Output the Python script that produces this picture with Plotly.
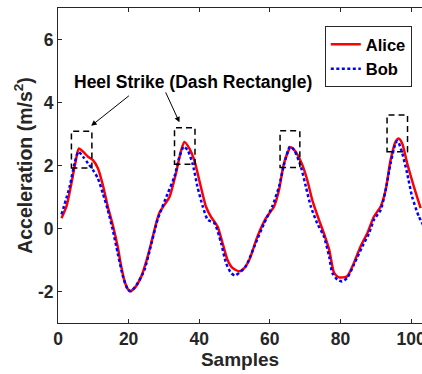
import plotly.graph_objects as go

# ---- data ----
alice_x = [1.0, 2.4, 3.8, 4.9, 5.9, 7.1, 8.5, 9.9, 11.3, 12.7, 14.1, 15.5, 16.9, 17.9, 19.0, 20.3,
           21.7, 23.6, 25.4, 26.4, 28.7, 31.6, 33.4, 34.9, 35.8, 37.2, 38.6, 40.0, 41.9, 43.3, 45.2,
           46.6, 48.0, 49.4, 51.3, 52.3, 54.2, 56.5, 58.9, 61.2, 62.6, 64.0, 65.9, 67.3, 69.2, 70.6,
           72.0, 73.9, 75.3, 76.8, 78.2, 79.6, 81.9, 83.8, 85.7, 87.6, 89.5, 91.4, 92.8, 94.2, 95.6,
           96.5, 97.5, 98.9, 100.8, 102.7]
alice_y = [0.33, 0.70, 1.44, 2.07, 2.54, 2.44, 2.28, 2.17, 1.91, 1.38, 0.70, 0.12, -0.57, -1.20, -1.73, -1.99,
           -1.89, -1.52, -0.89, -0.46, 0.49, 1.01, 1.75, 2.49, 2.75, 2.54, 2.17, 1.54, 0.70, 0.38, 0.06,
           -0.46, -0.99, -1.25, -1.36, -1.31, -0.99, -0.25, 0.33, 0.70, 1.22, 2.07, 2.58, 2.44, 2.02, 1.54,
           0.91, 0.28, -0.15, -0.67, -1.41, -1.55, -1.52, -1.10, -0.57, -0.15, 0.38, 0.70, 1.22, 2.17, 2.75,
           2.86, 2.70, 2.07, 1.33, 0.65]

bob_x = [1.0, 3.3, 4.7, 5.8, 7.1, 8.5, 9.9, 11.3, 12.7, 14.1, 15.5, 16.9, 18.4, 19.8, 20.7, 22.6,
         24.5, 25.9, 28.2, 31.1, 33.0, 34.4, 35.6, 36.7, 38.1, 39.5, 41.0, 42.4, 44.3, 46.2, 47.6,
         49.0, 50.1, 51.3, 53.2, 55.6, 58.4, 60.7, 62.6, 64.0, 65.7, 66.9, 68.8, 70.2, 71.6, 73.4,
         75.3, 76.8, 77.7, 79.1, 80.5, 81.9, 83.8, 86.2, 88.1, 89.5, 91.4, 92.8, 94.2, 95.6, 96.2,
         97.5, 98.9, 100.3, 102.2, 103.5]
bob_y = [0.45, 1.33, 2.07, 2.44, 2.28, 2.07, 1.86, 1.59, 1.12, 0.59, -0.04, -0.78, -1.52, -1.94, -1.99, -1.73,
         -1.31, -0.73, 0.28, 1.12, 1.65, 2.28, 2.60, 2.49, 2.07, 1.33, 0.70, 0.28, 0.17, -0.46, -1.10,
         -1.41, -1.49, -1.41, -1.20, -0.57, 0.17, 0.70, 1.33, 2.02, 2.60, 2.49, 1.96, 1.33, 0.70, 0.17,
         -0.25, -0.89, -1.41, -1.62, -1.68, -1.57, -1.15, -0.57, -0.15, 0.28, 0.59, 1.22, 2.07, 2.70, 2.78,
         2.39, 1.75, 1.01, 0.38, 0.10]

# heel strike rectangles
rect_x0 = [3.8, 33.0, 62.9, 93.2]
rect_x1 = [9.6, 38.8, 68.5, 99.0]
rect_y0 = [1.92, 2.04, 1.94, 2.44]
rect_y1 = [3.09, 3.20, 3.10, 3.60]

x_ticks = [0, 20, 40, 60, 80, 100]
x_tick_labels = ["0", "20", "40", "60", "80", "100"]
y_ticks = [-2, 0, 2, 4, 6]
y_tick_labels = ["-2", "0", "2", "4", "6"]

annot_text = "Heel Strike (Dash Rectangle)"

FONT = "Liberation Sans, Arial, sans-serif"
AX = "#262626"

fig = go.Figure()
fig.add_trace(go.Scatter(x=alice_x, y=alice_y, mode="lines", name="Alice",
                         line=dict(color="#FF0000", width=2.5, shape="spline", smoothing=0.6)))
fig.add_trace(go.Scatter(x=bob_x, y=bob_y, mode="lines", name="Bob",
                         line=dict(color="#0000FF", width=2.5, dash="3px,2.5px",
                                   shape="spline", smoothing=0.6)))

for x0, x1, y0, y1 in zip(rect_x0, rect_x1, rect_y0, rect_y1):
    fig.add_shape(type="rect", x0=x0, x1=x1, y0=y0, y1=y1, xref="x", yref="y",
                  line=dict(color="black", width=1.5, dash="6px,4px"))

fig.add_annotation(x=38.3, y=4.65, xref="x", yref="y", text=annot_text, showarrow=False,
                   font=dict(family=FONT, size=17.5, color="black", weight="bold"))
# arrows (head -> tail in data coordinates)
for hx, hy, tx, ty in [(9.4, 3.26, 20.5, 4.25), (34.4, 3.37, 30.3, 4.37)]:
    fig.add_annotation(x=hx, y=hy, ax=tx, ay=ty, xref="x", yref="y", axref="x", ayref="y",
                       text="", showarrow=True, arrowhead=2, arrowsize=1.1, arrowwidth=1,
                       arrowcolor="black")

fig.update_layout(
    width=422, height=374,
    margin=dict(l=58, r=0, t=8, b=51, autoexpand=False),
    paper_bgcolor="white", plot_bgcolor="white",
    font=dict(family=FONT, size=17, color=AX, weight="bold"),
    showlegend=True,
    legend=dict(x=0.733, y=0.943, xanchor="left", yanchor="top",
                bgcolor="white", bordercolor=AX, borderwidth=1,
                font=dict(family=FONT, size=16.5, color="black", weight="bold"),
                tracegroupgap=0, itemwidth=30),
)
fig.update_xaxes(range=[0, 103.1], tickvals=x_ticks, ticktext=x_tick_labels,
                 ticks="inside", ticklen=4, ticklabeloverflow="allow",
                 tickcolor=AX, showline=True, linecolor=AX, linewidth=1, mirror="ticks",
                 showgrid=False, zeroline=False, automargin=False,
                 tickfont=dict(family=FONT, size=17.5, color=AX, weight="bold"),
                 title=dict(text="Samples", standoff=4,
                            font=dict(family=FONT, size=19, color=AX, weight="bold")))
fig.update_yaxes(range=[-3, 7], tickvals=y_ticks, ticktext=y_tick_labels,
                 ticks="inside", ticklen=4,
                 tickcolor=AX, showline=True, linecolor=AX, linewidth=1, mirror=False,
                 showgrid=False, zeroline=False, automargin=False,
                 tickfont=dict(family=FONT, size=17.5, color=AX, weight="bold"),
                 title=dict(text="Acceleration (m/s<sup>2</sup>)", standoff=0,
                            font=dict(family=FONT, size=19.5, color=AX, weight="bold")))

fig.write_html("out.html", config={"displayModeBar": False},
               post_script="document.body.style.margin='0';document.body.style.overflow='hidden';")
